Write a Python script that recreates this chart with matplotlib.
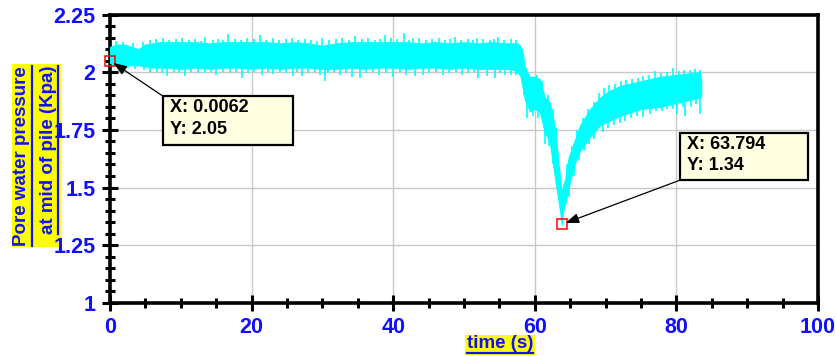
import matplotlib
matplotlib.use("Agg")
import matplotlib.pyplot as plt
import numpy as np
from matplotlib.lines import Line2D
from matplotlib.patches import Rectangle

# ── Data ──────────────────────────────────────────────────────────────────────
# core of the noisy band: time, upper and lower edge
t_env = [0, 1, 2, 3, 4, 5, 6, 7, 8, 10, 12, 14, 16, 18, 20, 22, 24, 26, 28, 30,
         32, 34, 36, 38, 40, 42, 44, 46, 48, 50, 52, 54, 56, 57, 57.6, 58.0, 58.3,
         58.6, 59.3, 60.0, 60.7, 61.4, 62.1, 62.9, 63.3, 63.6, 63.8, 64.0, 64.3,
         64.7, 65.0, 65.7, 66.4, 67.8, 69.2, 70.6, 72.0, 74.9, 77.7, 80.5, 83.3, 83.5]
upper = [2.11, 2.12, 2.12, 2.11, 2.10, 2.12, 2.125, 2.13, 2.13, 2.13, 2.13, 2.125,
         2.13, 2.13, 2.13, 2.13, 2.125, 2.13, 2.125, 2.115, 2.125, 2.13, 2.13, 2.13,
         2.13, 2.13, 2.125, 2.13, 2.125, 2.13, 2.125, 2.13, 2.125, 2.125, 2.125,
         2.11, 2.08, 2.02, 1.98, 1.98, 1.97, 1.89, 1.87, 1.75, 1.62, 1.53, 1.47,
         1.51, 1.54, 1.62, 1.65, 1.71, 1.77, 1.84, 1.89, 1.92, 1.94, 1.96, 1.98,
         1.99, 2.00, 1.96]
lower = [2.04, 2.03, 2.03, 2.03, 2.03, 2.025, 2.02, 2.02, 2.02, 2.015, 2.02, 2.015,
         2.02, 2.02, 2.015, 2.02, 2.015, 2.02, 2.02, 2.015, 2.015, 2.02, 2.015,
         2.02, 2.02, 2.015, 2.02, 2.02, 2.015, 2.02, 2.015, 2.015, 2.015, 2.01,
         2.00, 1.98, 1.93, 1.88, 1.83, 1.84, 1.83, 1.74, 1.70, 1.53, 1.45, 1.39,
         1.34, 1.40, 1.43, 1.49, 1.53, 1.61, 1.66, 1.72, 1.77, 1.79, 1.81, 1.84,
         1.85, 1.87, 1.89, 1.90]

# spikes poking out of the band (time, tip value)
spike_up_t = [0.8, 1.9, 3.2, 4.6, 5.6, 6.5, 7.5, 8.4, 9.3, 10.2, 11.1, 12.0, 12.8,
              13.4, 14.5, 15.3, 16.0, 16.7, 17.6, 18.5, 19.4, 20.3, 21.2, 22.1, 23.0,
              23.9, 24.8, 25.7, 26.6, 27.5, 28.4, 29.2, 29.9, 31.0, 31.9, 32.8, 33.7,
              34.6, 35.6, 36.5, 37.4, 38.1, 38.8, 39.7, 40.6, 41.5, 42.2, 42.8, 43.7,
              44.6, 45.5, 46.4, 47.3, 48.0, 48.7, 49.6, 50.5, 51.2, 51.8, 52.7, 53.6,
              54.2, 54.8, 55.7, 56.6, 57.3, 58.2, 58.8, 59.6, 60.3, 61.0, 61.9, 62.5,
              63.0, 64.6, 65.3, 66.0, 66.8, 67.5, 68.3, 69.0, 69.8, 70.5, 71.3, 72.1,
              72.9, 73.7, 74.5, 75.3, 76.1, 77.0, 77.8, 78.6, 79.5, 80.3, 81.1, 81.9,
              82.6, 83.3]
spike_up_v = [2.135, 2.13, 2.125, 2.13, 2.14, 2.145, 2.148, 2.14, 2.145, 2.15, 2.14,
              2.145, 2.135, 2.152, 2.14, 2.145, 2.14, 2.165, 2.145, 2.14, 2.15, 2.145,
              2.161, 2.14, 2.15, 2.14, 2.145, 2.15, 2.14, 2.145, 2.14, 2.135, 2.148,
              2.14, 2.145, 2.15, 2.14, 2.157, 2.145, 2.15, 2.14, 2.145, 2.161, 2.15,
              2.145, 2.170, 2.14, 2.148, 2.15, 2.14, 2.145, 2.15, 2.14, 2.145, 2.152,
              2.14, 2.145, 2.14, 2.148, 2.145, 2.14, 2.145, 2.152, 2.14, 2.145, 2.14,
              2.10, 2.02, 1.98, 1.99, 1.96, 1.90, 1.84, 1.76, 1.60, 1.68, 1.75, 1.80,
              1.84, 1.87, 1.91, 1.93, 1.945, 1.95, 1.96, 1.965, 1.97, 1.975, 1.985,
              1.99, 2.005, 1.995, 2.0, 2.02, 2.005, 2.01, 2.01, 2.015, 2.01]
spike_dn_t = [0.5, 1.4, 2.5, 3.6, 4.8, 5.7, 6.6, 7.3, 8.1, 9.0, 9.8, 10.6, 11.5,
              12.4, 13.4, 14.2, 15.0, 15.9, 16.9, 17.8, 18.6, 19.5, 20.4, 21.5, 22.3,
              23.0, 24.0, 24.9, 25.8, 26.4, 27.1, 28.0, 28.9, 29.6, 30.4, 30.8, 31.7,
              32.5, 33.4, 34.2, 35.3, 36.2, 37.1, 38.0, 39.0, 40.0, 40.9, 41.8, 43.1,
              44.2, 45.1, 46.0, 47.0, 47.9, 48.8, 49.7, 50.6, 51.4, 52.0, 53.2, 54.4,
              55.1, 55.8, 56.6, 57.3, 58.5, 58.9, 59.8, 60.5, 61.4, 62.0, 62.6, 64.8,
              65.5, 66.2, 66.9, 67.6, 68.4, 69.6, 70.4, 71.2, 72.0, 72.8, 73.6, 74.4,
              75.3, 76.2, 77.1, 77.9, 78.7, 79.5, 80.1, 80.9, 81.2, 82.0, 82.7, 83.3]
spike_dn_v = [2.03, 2.02, 2.02, 2.015, 2.01, 2.0, 2.0, 1.995, 1.983, 2.0, 1.995,
              1.983, 2.0, 1.995, 1.996, 2.0, 1.99, 2.0, 1.995, 2.0, 1.974, 1.995, 2.0,
              1.99, 2.0, 1.992, 2.0, 1.995, 1.983, 2.0, 1.983, 1.995, 2.0, 1.99, 1.961,
              1.996, 2.0, 1.99, 1.995, 1.979, 1.974, 1.995, 2.0, 1.99, 1.995, 1.979,
              2.0, 1.99, 1.983, 1.987, 1.995, 2.0, 1.987, 1.995, 2.0, 1.99, 1.995,
              2.0, 1.974, 1.983, 1.974, 1.995, 1.987, 1.99, 1.99, 1.90, 1.80, 1.81,
              1.80, 1.69, 1.68, 1.60, 1.46, 1.55, 1.62, 1.66, 1.69, 1.71, 1.74, 1.76,
              1.77, 1.78, 1.79, 1.80, 1.81, 1.805, 1.82, 1.83, 1.83, 1.84, 1.84, 1.82,
              1.85, 1.81, 1.85, 1.86, 1.82]

# datatips: marked point, box corners (x0, x1, y_top, y_bottom), arrow start corner
tip_x = [0.0062, 63.794]
tip_y = [2.05, 1.34]
tip_box = [(7.49, 25.85, 1.896, 1.684), (80.5, 98.6, 1.736, 1.532)]
tip_from = ["top", "bottom"]

CYAN = "#00FFFF"
BLUE = "#1010FF"
FONT = "Liberation Sans"

# ── Figure ────────────────────────────────────────────────────────────────────
fig = plt.figure(figsize=(8.37, 3.55), dpi=100)
ax = fig.add_axes([0.1314, 0.147, 0.846, 0.812])

t_env = np.array(t_env)
upper = np.array(upper)
lower = np.array(lower)
mid = (upper + lower) / 2

ax.fill_between(t_env, lower, upper, color=CYAN, lw=0.8, edgecolor=CYAN, zorder=3)
ax.vlines(spike_up_t, np.interp(spike_up_t, t_env, mid), spike_up_v,
          color=CYAN, lw=1.2, zorder=3)
ax.vlines(spike_dn_t, np.interp(spike_dn_t, t_env, mid), spike_dn_v,
          color=CYAN, lw=1.2, zorder=3)

ax.set_xlim(0, 100)
ax.set_ylim(1, 2.25)
ax.set_xticks(np.arange(0, 101, 20))
ax.set_xticks(np.arange(0, 101, 5), minor=True)
ax.set_yticks([1, 1.25, 1.5, 1.75, 2, 2.25])
ax.set_yticks(np.arange(1, 2.2501, 0.05), minor=True)
ax.set_yticklabels(["1", "1.25", "1.5", "1.75", "2", "2.25"])
ax.set_xticklabels(["0", "20", "40", "60", "80", "100"])

ax.grid(True, which="major", color="#c8c8c8", lw=1, zorder=0)
ax.set_axisbelow(True)
for sp in ax.spines.values():
    sp.set_linewidth(2.6)
    sp.set_color("black")
ax.tick_params(which="major", direction="inout", length=11, width=2.2,
               colors="black", labelcolor=BLUE, pad=5)
ax.tick_params(which="minor", direction="inout", length=7, width=2.2, colors="black")
ax.tick_params(axis="y", pad=5)
for lab in ax.get_xticklabels() + ax.get_yticklabels():
    lab.set_fontfamily(FONT)
    lab.set_fontweight("bold")
    lab.set_fontsize(15.5)

# datatip markers, boxes, arrows
for x, y, (bx0, bx1, by0, by1), frm in zip(tip_x, tip_y, tip_box, tip_from):
    ax.plot([x], [y], marker="s", ms=6.5, mfc="none", mec="red", mew=1.1,
            zorder=5, clip_on=False)
    ax.add_patch(Rectangle((bx0, by1), bx1 - bx0, by0 - by1, fc="#FFFFE1",
                           ec="black", lw=1.6, zorder=6))
    ax.text(bx0 + 0.95, by0 - 0.012, f"X: {x:g}\nY: {y:g}", ha="left", va="top",
            fontsize=13, fontweight="bold", family=FONT, color="black",
            linespacing=1.35, zorder=7)
    start = (bx0, by0) if frm == "top" else (bx0, by1)
    ax.annotate("", xy=(x, y), xytext=start, zorder=6,
                arrowprops=dict(arrowstyle="-|>,head_length=0.8,head_width=0.3",
                                color="black", lw=0.9, shrinkA=0, shrinkB=3))

# axis labels with yellow highlight and underline
lab_kw = dict(fontsize=13.5, fontweight="bold", family=FONT, color=BLUE)
yl1 = fig.text(22 / 837, 1 - 156 / 355, "Pore water pressure", rotation=90,
               ha="center", va="center", **lab_kw)
yl2 = fig.text(48.5 / 837, 1 - 150 / 355, "at mid of pile (Kpa)", rotation=90,
               ha="center", va="center", **lab_kw)
xl = fig.text(500 / 837, 1 - 343 / 355, "time (s)", ha="center", va="center", **lab_kw)

fig.canvas.draw()
r = fig.canvas.get_renderer()
W, H = fig.bbox.width, fig.bbox.height


def add_rect(x0, y0, x1, y1):
    fig.patches.append(Rectangle((x0 / W, y0 / H), (x1 - x0) / W, (y1 - y0) / H,
                                 transform=fig.transFigure, fc="yellow", ec="none",
                                 zorder=-1))


def add_line(x0, y0, x1, y1, lw=1.6):
    fig.add_artist(Line2D([x0 / W, x1 / W], [y0 / H, y1 / H], transform=fig.transFigure,
                          color=BLUE, lw=lw))


e1 = yl1.get_window_extent(r)
e2 = yl2.get_window_extent(r)
add_rect(min(e1.x0, e2.x0) - 1, min(e1.y0, e2.y0) - 1, max(e1.x1, e2.x1) + 4,
         max(e1.y1, e2.y1) + 2)
add_line(e1.x1 + 1, e1.y0, e1.x1 + 1, e1.y1)
add_line(e2.x1 + 1, e2.y0, e2.x1 + 1, e2.y1)
ex = xl.get_window_extent(r)
add_rect(ex.x0 - 2, ex.y0 - 3, ex.x1 + 2, ex.y1)
add_line(ex.x0, ex.y0 - 1, ex.x1, ex.y0 - 1)

fig.savefig("out.png", dpi=100, facecolor="white")
